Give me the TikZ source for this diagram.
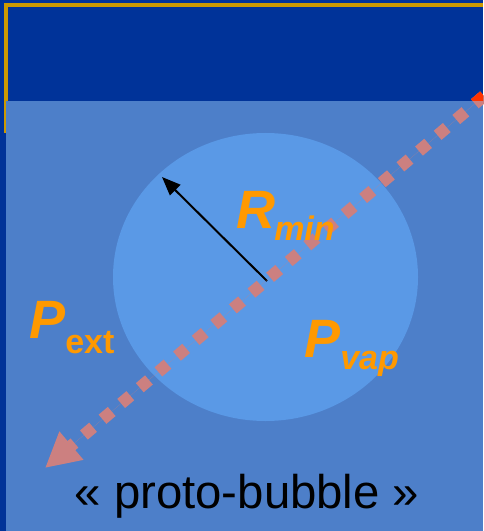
\documentclass[tikz,border=0pt]{standalone}
\usepackage{fontspec}
\setmainfont{Liberation Sans}
\usetikzlibrary{arrows.meta}
\definecolor{darkbg}{RGB}{0,51,153}
\definecolor{goldline}{RGB}{204,153,0}
\definecolor{lightbg}{RGB}{77,127,201}
\definecolor{bubble}{RGB}{90,153,230}
\definecolor{labelorange}{RGB}{255,153,0}
\definecolor{dashpink}{RGB}{204,128,128}
\definecolor{dashred}{RGB}{255,51,0}
\tikzset{
  biglabel/.style={text=labelorange, inner sep=0pt, anchor=base west, font=\fontsize{40.5}{40.5}\selectfont\bfseries\itshape},
  sublabel/.style={text=labelorange, inner sep=0pt, anchor=base west, font=\fontsize{25.5}{25.5}\selectfont\bfseries\itshape},
  subup/.style={text=labelorange, inner sep=0pt, anchor=base west, font=\fontsize{25.5}{25.5}\selectfont\bfseries},
  pressure/.style={line width=9pt, dash pattern=on 9pt off 9.3pt, -{Triangle[length=26pt,width=26pt]}},
}
\begin{document}
\begin{tikzpicture}[x=0.75pt,y=-0.75pt]
\useasboundingbox (0,0) rectangle (483,531);
\fill[darkbg] (0,0) rectangle (483,531);
\fill[goldline] (4,3) rectangle (483,7);
\fill[goldline] (4,3) rectangle (8,133);
\fill[lightbg] (6,101) rectangle (483,531);
\fill[bubble] (265.5,277) ellipse [x radius=152.5, y radius=144];
% nodes
\coordinate (center) at (267,281);
\coordinate (rim) at (162,177);
\coordinate (pstart) at (484,96);
\coordinate (pend) at (45,468);
\draw[line width=1.5pt, -{Triangle[length=14pt,width=11pt]}] (center) -- (rim);
\draw[pressure, draw=dashpink, fill=dashpink] (pstart) -- (pend);
\begin{scope}
\clip (400,80) rectangle (483,101);
\draw[pressure, draw=dashred, fill=dashred] (pstart) -- (pend);
\end{scope}
\node[biglabel] (R) at (236,228) {R};
\node[sublabel] (Rsub) at (274,240) {min};
\node[biglabel] (Pe) at (29,338) {P};
\node[subup] (Pesub) at (65,353) {ext};
\node[biglabel] (Pv) at (304,357) {P};
\node[sublabel] (Pvsub) at (340,369) {vap};
\node[inner sep=0pt, anchor=base, font=\fontsize{35.5}{35.5}\selectfont] (cap) at (247,508) {« proto-bubble »};
\end{tikzpicture}
\end{document}
